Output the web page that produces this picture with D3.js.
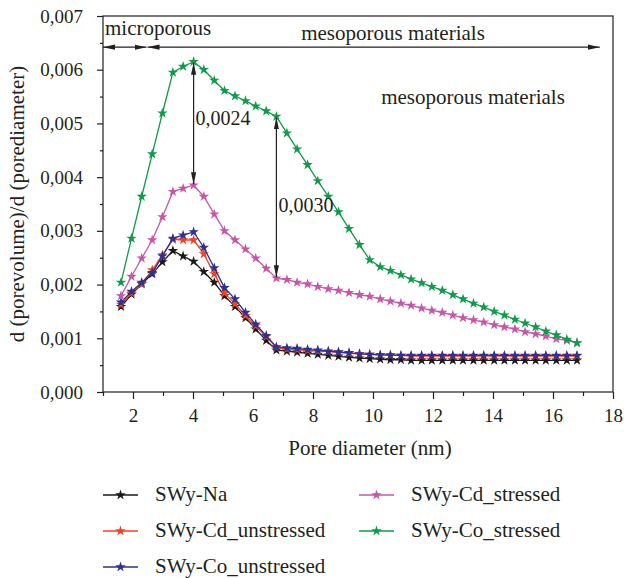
<!DOCTYPE html>
<html>
<head>
<meta charset="utf-8">
<script src="https://cdn.jsdelivr.net/npm/d3@7"></script>
<style>
  body { margin: 0; background: #fff; }
  svg { display: block; font-family: "Liberation Serif", "Times New Roman", serif; }
</style>
</head>
<body>
<div id="main"></div>
<script>
// pore diameter (nm) for every measured point
const poreDiameter = [1.60, 1.95, 2.29, 2.64, 2.98, 3.33, 3.67, 4.02, 4.36, 4.71, 5.05, 5.40, 5.75, 6.09, 6.44,
    6.78, 7.13, 7.47, 7.82, 8.16, 8.51, 8.85, 9.20, 9.55, 9.89, 10.24, 10.58, 10.93, 11.27, 11.62,
    11.96, 12.31, 12.66, 13.00, 13.35, 13.69, 14.04, 14.38, 14.73, 15.07, 15.42, 15.76, 16.11, 16.46, 16.80];

// dV/dD values, in units of 0.001
const swyNa = [1.59, 1.82, 2.01, 2.20, 2.42, 2.63, 2.53, 2.43, 2.24, 2.04, 1.79, 1.59, 1.38, 1.17, 0.96,
    0.78, 0.76, 0.74, 0.72, 0.70, 0.68, 0.665, 0.645, 0.63, 0.62, 0.61, 0.60, 0.60, 0.59, 0.59,
    0.59, 0.59, 0.59, 0.59, 0.59, 0.59, 0.59, 0.59, 0.59, 0.59, 0.59, 0.59, 0.59, 0.59, 0.59];
const cdUnstressed = [1.63, 1.84, 2.02, 2.27, 2.55, 2.84, 2.83, 2.83, 2.57, 2.20, 1.84, 1.64, 1.42, 1.23, 1.03,
    0.83, 0.80, 0.79, 0.77, 0.76, 0.75, 0.74, 0.72, 0.71, 0.70, 0.69, 0.68, 0.68, 0.67, 0.67,
    0.67, 0.67, 0.67, 0.67, 0.67, 0.67, 0.67, 0.67, 0.67, 0.67, 0.67, 0.67, 0.67, 0.67, 0.67];
const coUnstressed = [1.67, 1.87, 2.04, 2.22, 2.53, 2.86, 2.92, 2.98, 2.69, 2.31, 1.94, 1.73, 1.48, 1.26, 1.05,
    0.84, 0.82, 0.81, 0.79, 0.78, 0.76, 0.745, 0.73, 0.71, 0.70, 0.69, 0.69, 0.68, 0.68, 0.68,
    0.68, 0.68, 0.68, 0.68, 0.68, 0.68, 0.68, 0.68, 0.68, 0.68, 0.68, 0.68, 0.68, 0.68, 0.68];
const cdStressed = [1.79, 2.15, 2.49, 2.83, 3.26, 3.73, 3.79, 3.85, 3.64, 3.31, 3.00, 2.83, 2.66, 2.49, 2.30,
    2.12, 2.09, 2.04, 2.01, 1.96, 1.92, 1.89, 1.85, 1.81, 1.78, 1.73, 1.69, 1.65, 1.61, 1.56,
    1.52, 1.48, 1.43, 1.38, 1.34, 1.30, 1.25, 1.21, 1.17, 1.12, 1.08, 1.04, 0.99, 0.96, 0.92];
const coStressed = [2.04, 2.86, 3.64, 4.43, 5.19, 5.95, 6.06, 6.15, 6.00, 5.80, 5.61, 5.51, 5.42, 5.32, 5.23,
    5.13, 4.82, 4.52, 4.23, 3.93, 3.64, 3.35, 3.04, 2.74, 2.46, 2.33, 2.26, 2.18, 2.10, 2.03,
    1.96, 1.89, 1.81, 1.73, 1.65, 1.58, 1.50, 1.43, 1.35, 1.28, 1.21, 1.13, 1.06, 0.98, 0.91];

const seriesNames = ['SWy-Na', 'SWy-Cd_unstressed', 'SWy-Co_unstressed', 'SWy-Cd_stressed', 'SWy-Co_stressed'];
const seriesValues = [swyNa, cdUnstressed, coUnstressed, cdStressed, coStressed];
const seriesColors = ['#1a1a1a', '#ee4323', '#2e3192', '#c458a8', '#12994a'];

const xTicks = [2, 4, 6, 8, 10, 12, 14, 16, 18];
const yTicks = [0, 0.001, 0.002, 0.003, 0.004, 0.005, 0.006, 0.007];

// annotations: double arrows between the stressed curves at these point indexes
const gapArrows = [{ index: 7, label: '0,0024' }, { index: 15, label: '0,0030' }];

const width = 624;
const height = 578;
const plotLeft = 103, plotRight = 613, plotTop = 16, plotBottom = 392;

const svg = d3.select('#main').append('svg')
    .attr('width', width)
    .attr('height', height);

const x = d3.scaleLinear().domain([1, 18]).range([plotLeft, plotRight]);
const y = d3.scaleLinear().domain([0, 0.007]).range([plotBottom, plotTop]);
const fmt = (d) => d3.format('.3f')(d).replace('.', ',');

const ink = '#231f20';

// frame
svg.append('rect')
    .attr('x', plotLeft).attr('y', plotTop)
    .attr('width', plotRight - plotLeft).attr('height', plotBottom - plotTop)
    .attr('fill', 'none').attr('stroke', ink).attr('stroke-width', 1.2);

// x axis
svg.append('g')
    .attr('transform', `translate(0, ${plotBottom})`)
    .call(d3.axisBottom(x).tickValues(xTicks).tickSize(7).tickPadding(10));
svg.append('g')
    .attr('transform', `translate(0, ${plotBottom})`)
    .call(d3.axisBottom(x).tickValues(d3.range(1, 18, 2)).tickSize(4).tickFormat(''));

// y axis
svg.append('g')
    .attr('transform', `translate(${plotLeft}, 0)`)
    .call(d3.axisLeft(y).tickValues(yTicks).tickSize(6).tickPadding(14).tickFormat(fmt));
svg.append('g')
    .attr('transform', `translate(${plotLeft}, 0)`)
    .call(d3.axisLeft(y).tickValues([0.0005, 0.0015, 0.0025, 0.0035, 0.0045, 0.0055, 0.0065]).tickSize(3).tickFormat(''));

svg.selectAll('.domain').remove();
svg.selectAll('.tick line').attr('stroke', ink).attr('stroke-width', 1.2);
svg.selectAll('.tick text')
    .attr('fill', ink)
    .style('font-family', '"Liberation Serif", serif')
    .style('font-size', '19px');

// axis titles
svg.append('text')
    .attr('x', 370).attr('y', 455)
    .attr('text-anchor', 'middle')
    .attr('fill', ink)
    .style('font-size', '21px')
    .text('Pore diameter (nm)');
svg.append('text')
    .attr('transform', `translate(17, ${(plotTop + plotBottom) / 2}) rotate(-90)`)
    .attr('text-anchor', 'middle')
    .attr('dominant-baseline', 'central')
    .attr('fill', ink)
    .style('font-size', '21px')
    .text('d (porevolume)/d (porediameter)');

// arrow markers
const defs = svg.append('defs');
defs.append('marker')
    .attr('id', 'head')
    .attr('viewBox', '0 -3 12 6')
    .attr('refX', 12).attr('refY', 0)
    .attr('markerWidth', 12).attr('markerHeight', 6)
    .attr('markerUnits', 'userSpaceOnUse')
    .attr('orient', 'auto-start-reverse')
    .append('path')
    .attr('d', 'M0,-2.6L12,0L0,2.6Z')
    .attr('fill', ink);

// region arrows along the top
const regionY = y(0.00642);
const splitX = 2.45;
svg.append('line')
    .attr('x1', x(1)).attr('x2', x(splitX))
    .attr('y1', regionY).attr('y2', regionY)
    .attr('stroke', ink).attr('stroke-width', 1.2)
    .attr('marker-start', 'url(#head)').attr('marker-end', 'url(#head)');
svg.append('line')
    .attr('x1', x(splitX) + 1).attr('x2', x(17.56))
    .attr('y1', regionY).attr('y2', regionY)
    .attr('stroke', ink).attr('stroke-width', 1.2)
    .attr('marker-start', 'url(#head)').attr('marker-end', 'url(#head)');

svg.append('text')
    .attr('x', 105).attr('y', 35)
    .attr('fill', ink).style('font-size', '21px')
    .text('microporous');
svg.append('text')
    .attr('x', 393).attr('y', 40)
    .attr('text-anchor', 'middle')
    .attr('fill', ink).style('font-size', '21px')
    .text('mesoporous materials');
svg.append('text')
    .attr('x', 473).attr('y', 104)
    .attr('text-anchor', 'middle')
    .attr('fill', ink).style('font-size', '21px')
    .text('mesoporous materials');

// lines and star markers
const line = d3.line()
    .x((d, i) => x(poreDiameter[i]))
    .y((d) => y(d / 1000));
const star = d3.symbol().type(d3.symbolStar).size(34);

seriesValues.forEach((values, k) => {
    const g = svg.append('g');
    g.append('path')
        .attr('d', line(values))
        .attr('fill', 'none')
        .attr('stroke', seriesColors[k])
        .attr('stroke-width', 1.3);
    g.selectAll('path.pt')
        .data(values)
        .enter()
        .append('path')
        .attr('class', 'pt')
        .attr('transform', (d, i) => `translate(${x(poreDiameter[i])}, ${y(d / 1000)})`)
        .attr('d', star)
        .attr('fill', seriesColors[k]);
});

// gap arrows between stressed curves
gapArrows.forEach((a, j) => {
    const px = x(poreDiameter[a.index]);
    svg.append('line')
        .attr('x1', px).attr('x2', px)
        .attr('y1', y(coStressed[a.index] / 1000) + 1)
        .attr('y2', y(cdStressed[a.index] / 1000) - 1)
        .attr('stroke', ink).attr('stroke-width', 1.2)
        .attr('marker-start', 'url(#head)').attr('marker-end', 'url(#head)');
    svg.append('text')
        .attr('x', px + 2)
        .attr('y', j === 0 ? 125 : 212)
        .attr('fill', ink).style('font-size', '20px')
        .text(a.label);
});

// legend
const legendRows = [
    { col: 0, row: 0 }, { col: 0, row: 1 }, { col: 0, row: 2 }, { col: 1, row: 0 }, { col: 1, row: 1 }
];
const legend = svg.append('g');
seriesNames.forEach((name, k) => {
    const lx = legendRows[k].col === 0 ? 103 : 359;
    const ly = 495 + legendRows[k].row * 36;
    const item = legend.append('g').attr('transform', `translate(${lx}, ${ly})`);
    item.append('line')
        .attr('x1', 0).attr('x2', 35)
        .attr('stroke', seriesColors[k]).attr('stroke-width', 1.3);
    item.append('path')
        .attr('transform', 'translate(17.5, 0)')
        .attr('d', star)
        .attr('fill', seriesColors[k]);
    item.append('text')
        .attr('x', 52).attr('y', 6)
        .attr('fill', ink)
        .style('font-size', '21px')
        .text(name);
});
</script>
</body>
</html>
